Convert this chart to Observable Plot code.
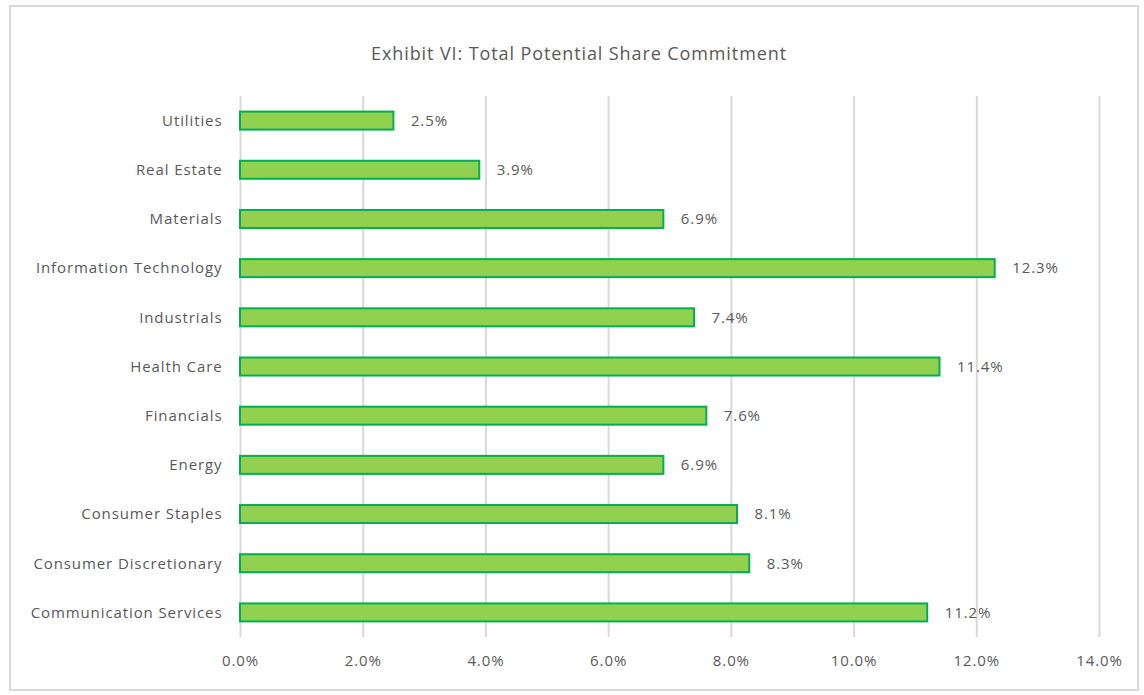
<!DOCTYPE html>
<html><head><meta charset="utf-8">
<script src="https://cdn.jsdelivr.net/npm/d3@7"></script>
<script src="https://cdn.jsdelivr.net/npm/@observablehq/plot@0.6"></script>
<style>
body{margin:0;background:#fff;}
#wrap{position:relative;width:1144px;height:695px;overflow:hidden;}
#border{position:absolute;left:9px;top:5px;width:1130px;height:686px;border:2px solid #d9d9d9;box-sizing:border-box;}
#title{position:absolute;left:0;width:1158px;top:41px;text-align:center;font-family:"Open Sans",sans-serif;font-size:18px;letter-spacing:0.9px;color:#595959;}
#chart{position:absolute;left:0;top:0;}
</style></head>
<body><div id="wrap"><div id="border"></div><div id="title">Exhibit VI: Total Potential Share Commitment</div><div id="chart"></div></div>
<script>
const categories = ["Utilities","Real Estate","Materials","Information Technology","Industrials","Health Care","Financials","Energy","Consumer Staples","Consumer Discretionary","Communication Services"];
const values = [2.5,3.9,6.9,12.3,7.4,11.4,7.6,6.9,8.1,8.3,11.2];
const xTicks = [0,2,4,6,8,10,12,14];
const data = categories.map((c,i)=>({category:c,value:values[i]}));
const fmt = d => d.toFixed(1) + "%";
const chart = Plot.plot({
  width:1144, height:695,
  marginLeft:240, marginRight:45, marginTop:96, marginBottom:58,
  style:{fontFamily:"'Open Sans', sans-serif", fontSize:"15px", letterSpacing:"0.9px", color:"#595959", background:"transparent"},
  x:{domain:[0,14], ticks:xTicks, tickFormat:fmt, tickSize:0, tickPadding:18, label:null},
  y:{domain:categories, paddingInner:0.634, paddingOuter:0.317, round:false, tickSize:0, tickPadding:18, label:null},
  marks:[
    Plot.gridX(xTicks,{stroke:"#d9d9d9", strokeOpacity:1, strokeWidth:2}),
    Plot.barX(data,{x:"value", y:"category", fill:"#92d050", stroke:"#00b050", strokeWidth:2}),
    Plot.text(data,{x:"value", y:"category", text:d=>fmt(d.value), textAnchor:"start", dx:17, fill:"#595959", fontSize:15})
  ]
});
document.getElementById("chart").appendChild(chart);
</script></body></html>
